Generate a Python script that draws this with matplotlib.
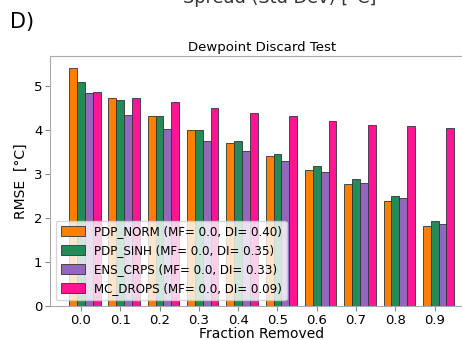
import numpy as np
import matplotlib
matplotlib.use('Agg')
from matplotlib import pyplot as plt

# fraction of samples discarded
fractions = ['0.0', '0.1', '0.2', '0.3', '0.4', '0.5', '0.6', '0.7', '0.8', '0.9']

# RMSE per method
rmse_pdp_norm = [5.40, 4.71, 4.31, 3.99, 3.69, 3.40, 3.09, 2.77, 2.38, 1.81]
rmse_pdp_sinh = [5.08, 4.67, 4.31, 4.00, 3.74, 3.46, 3.17, 2.88, 2.49, 1.93]
rmse_ens_crps = [4.83, 4.34, 4.02, 3.75, 3.52, 3.29, 3.04, 2.78, 2.45, 1.87]
rmse_mc_drops = [4.86, 4.73, 4.62, 4.50, 4.39, 4.30, 4.20, 4.11, 4.08, 4.04]

labels = ['PDP_NORM (MF= 0.0, DI= 0.40)',
          'PDP_SINH (MF= 0.0, DI= 0.35)',
          'ENS_CRPS (MF= 0.0, DI= 0.33)',
          'MC_DROPS (MF= 0.0, DI= 0.09)']
colors = ['#ff7f00', '#238b57', '#9467bd', '#ff1493']

fig = plt.figure(figsize=(4.62, 3.40), dpi=100)
ax = fig.add_axes([0.108, 0.10, 0.917, 0.735])

x = np.arange(len(fractions))
width = 0.2
series = [rmse_pdp_norm, rmse_pdp_sinh, rmse_ens_crps, rmse_mc_drops]
for i, (vals, lab, col) in enumerate(zip(series, labels, colors)):
    ax.bar(x + (i - 1) * width, vals, width, color=col, edgecolor='#333333',
           linewidth=0.6, label=lab)

ax.set_xticks(x)
ax.set_xticklabels(fractions)
ax.tick_params(labelsize=9.5, pad=2, color='#888888')
ax.set_xlabel('Fraction Removed', fontsize=10, labelpad=0)
ax.set_ylabel('RMSE  [°C]', fontsize=10)
ax.set_title('Dewpoint Discard Test', fontsize=9.5, pad=4)
for s in ax.spines.values():
    s.set_color('#aaaaaa')
ax.legend(loc='lower left', fontsize=8.6, handlelength=2.0, handleheight=0.85,
          labelspacing=0.5)

fig.text(0.022, 0.918, 'D)', fontsize=15, va='baseline', ha='left')
fig.text(0.606, 0.99, 'Spread (Std Dev) [°C]', fontsize=12.8, va='baseline',
         ha='center', color='#333333')

plt.savefig('out.png', dpi=100)
